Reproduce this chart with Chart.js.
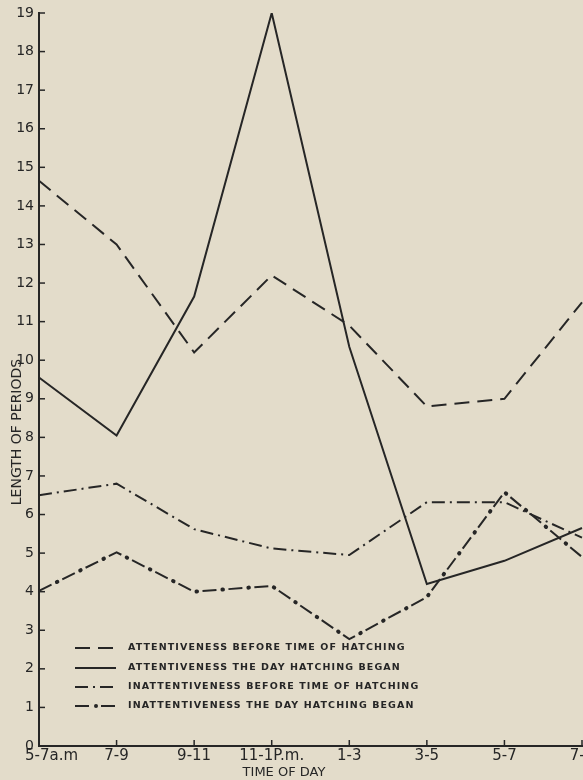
<!DOCTYPE html>
<html>
<head>
<meta charset="utf-8">
<script src="https://cdn.jsdelivr.net/npm/chart.js@4/dist/chart.umd.min.js"></script>
<style>
  html, body { margin: 0; padding: 0; background: #e3dcca; }
  #grafico { display: block; }
</style>
</head>
<body>
<canvas id="grafico" width="583" height="780"></canvas>
<script>
// periodos del dia y valores
const horas = ['5-7a.m', '7-9', '9-11', '11-1P.m.', '1-3', '3-5', '5-7', '7-9']
const atencionAntes = [14.65, 13.0, 10.2, 12.2, 10.9, 8.8, 9.0, 11.5]
const atencionDia = [9.55, 8.05, 11.65, 19.0, 10.35, 4.2, 4.8, 5.65]
const inatencionAntes = [6.5, 6.8, 5.62, 5.12, 4.95, 6.32, 6.32, 5.4]
const inatencionDia = [4.02, 5.02, 4.0, 4.15, 2.77, 3.86, 6.58, 4.9]
const nombres = [
  'ATTENTIVENESS BEFORE TIME OF HATCHING',
  'ATTENTIVENESS THE DAY HATCHING BEGAN',
  'INATTENTIVENESS BEFORE TIME OF HATCHING',
  'INATTENTIVENESS THE DAY HATCHING BEGAN'
]

const tinta = '#262626'
const fuente = '"DejaVu Sans", sans-serif'

function quitarPadding(scale) {
  scale.paddingLeft = 0
  scale.paddingRight = 0
  scale.paddingTop = 0
  scale.paddingBottom = 0
}

const fondo = {
  id: 'fondo',
  beforeDraw(chart) {
    const ctx = chart.ctx
    ctx.save()
    ctx.fillStyle = '#e3dcca'
    ctx.fillRect(0, 0, chart.width, chart.height)
    ctx.restore()
  }
}

const extras = {
  id: 'extras',
  afterDraw(chart) {
    const ctx = chart.ctx
    const x = chart.scales.x
    const y = chart.scales.y
    const area = chart.chartArea
    ctx.save()
    ctx.strokeStyle = tinta
    ctx.lineWidth = 1.5
    // marcas hacia adentro
    y.ticks.forEach(t => {
      const py = y.getPixelForValue(t.value)
      ctx.beginPath()
      ctx.moveTo(area.left, py)
      ctx.lineTo(area.left + 6, py)
      ctx.stroke()
    })
    horas.forEach((h, i) => {
      if (i === 0) return
      const px = x.getPixelForTick(i)
      ctx.beginPath()
      ctx.moveTo(px, area.bottom)
      ctx.lineTo(px, area.bottom - 6)
      ctx.stroke()
    })

    // etiquetas del eje x
    ctx.fillStyle = tinta
    ctx.font = '15px ' + fuente
    ctx.textBaseline = 'top'
    horas.forEach((h, i) => {
      const px = x.getPixelForTick(i)
      if (i === 0) {
        ctx.textAlign = 'left'
        ctx.fillText(h, px - 14, area.bottom + 3)
      } else {
        ctx.textAlign = 'center'
        ctx.fillText(h, px, area.bottom + 3)
      }
    })

    // titulos de ejes
    ctx.font = '13px ' + fuente
    ctx.textAlign = 'center'
    ctx.textBaseline = 'middle'
    ctx.fillText('TIME OF DAY', 284, 773)
    ctx.save()
    ctx.translate(17, 432)
    ctx.rotate(-Math.PI / 2)
    ctx.font = '14px ' + fuente
    ctx.fillText('LENGTH OF PERIODS', 0, 0)
    ctx.restore()

    // leyenda
    const filas = [648, 668, 687, 706]
    ctx.font = 'bold 9.5px ' + fuente
    ctx.letterSpacing = '1.1px'
    ctx.textAlign = 'left'
    filas.forEach((fy, i) => {
      const ds = chart.data.datasets[i]
      ctx.save()
      ctx.lineWidth = 2
      ctx.setLineDash(ds.borderDash || [])
      ctx.beginPath()
      ctx.moveTo(75, fy)
      ctx.lineTo(116, fy)
      ctx.stroke()
      ctx.restore()
      if (i === 3) {
        ctx.beginPath()
        ctx.arc(96, fy, 2, 0, Math.PI * 2)
        ctx.fill()
      }
      ctx.fillText(nombres[i], 128, fy)
    })
    ctx.restore()
  }
}

const ctx = document.getElementById('grafico').getContext('2d')
const chart = new Chart(ctx, {
  type: 'line',
  data: {
    labels: horas,
    datasets: [
      { label: nombres[0], data: atencionAntes, borderColor: tinta, borderWidth: 2, borderDash: [15, 8] },
      { label: nombres[1], data: atencionDia, borderColor: tinta, borderWidth: 2 },
      { label: nombres[2], data: inatencionAntes, borderColor: tinta, borderWidth: 2, borderDash: [13, 5, 2, 5] },
      { label: nombres[3], data: inatencionDia, borderColor: tinta, borderWidth: 2, borderDash: [14, 12] },
      // puntos de la ultima serie
      { label: '', data: inatencionDia, borderColor: tinta, borderWidth: 4, borderCapStyle: 'round',
        borderDash: [0.5, 25.5], borderDashOffset: 6 }
    ]
  },
  options: {
    responsive: false,
    animation: false,
    layout: { padding: { top: 13, right: 1, left: 0, bottom: 0 } },
    elements: { point: { radius: 0 }, line: { tension: 0, fill: false } },
    plugins: { legend: { display: false }, tooltip: { enabled: false } },
    scales: {
      x: {
        offset: false,
        grid: { display: true, drawOnChartArea: false, drawTicks: false },
        border: { display: true, color: tinta, width: 2 },
        ticks: { display: false },
        afterFit(scale) {
          scale.height = 34
          quitarPadding(scale)
        }
      },
      y: {
        min: 0,
        max: 19,
        grid: { display: true, drawOnChartArea: false, drawTicks: false },
        border: { display: true, color: tinta, width: 2 },
        ticks: {
          stepSize: 1,
          padding: 5,
          color: tinta,
          font: { family: fuente, size: 14 }
        },
        afterFit(scale) {
          scale.width = 39
          quitarPadding(scale)
        }
      }
    }
  },
  plugins: [fondo, extras]
})
</script>
</body>
</html>
